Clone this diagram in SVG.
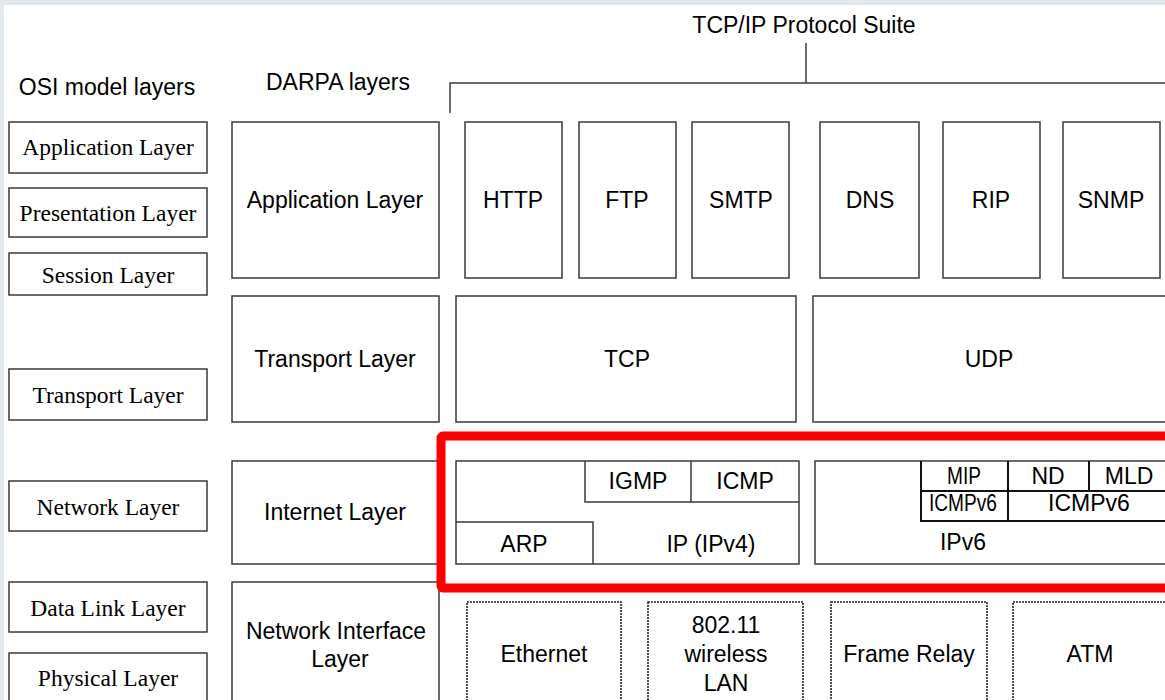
<svg xmlns="http://www.w3.org/2000/svg" width="1165" height="700" viewBox="0 0 1165 700">
  <style>
    .box { fill: #ffffff; stroke: #3a3a3a; stroke-width: 1.5; }
    .ln { fill: none; stroke: #3a3a3a; stroke-width: 1.5; }
    .bold { fill: none; stroke: #111111; stroke-width: 2; }
    .dot { fill: #ffffff; stroke: #222222; stroke-width: 1.6; stroke-dasharray: 2 1; }
    .sans { font-family: "Liberation Sans", Arial, sans-serif; font-size: 23px; fill: #000000; text-anchor: middle; }
    .serif { font-family: "Liberation Serif", "Times New Roman", serif; font-size: 23.5px; fill: #000000; text-anchor: middle; }
    .hl { fill: none; stroke: #ff0000; stroke-width: 9; }
  </style>

  <!-- backdrop and page -->
  <rect x="0" y="0" width="1165" height="700" fill="#e3e9ed"/>
  <rect x="4" y="5" width="1161" height="695" fill="#ffffff"/>

  <!-- column headings -->
  <text class="sans" x="107" y="95">OSI model layers</text>
  <text class="sans" x="338" y="90">DARPA layers</text>
  <text class="sans" x="804" y="33">TCP/IP Protocol Suite</text>

  <!-- bracket grouping the protocol suite -->
  <g id="connectors">
    <path class="ln" d="M806 43 V83"/>
    <path class="ln" d="M450 113 V83 H1170"/>
  </g>

  <!-- OSI model column -->
  <g id="osi-application"><rect class="box" x="9" y="122" width="198" height="51"/><text class="serif" x="108" y="155">Application Layer</text></g>
  <g id="osi-presentation"><rect class="box" x="9" y="188" width="198" height="49"/><text class="serif" x="108" y="221">Presentation Layer</text></g>
  <g id="osi-session"><rect class="box" x="9" y="253" width="198" height="42"/><text class="serif" x="108" y="283">Session Layer</text></g>
  <g id="osi-transport"><rect class="box" x="9" y="369" width="198" height="51"/><text class="serif" x="108" y="403">Transport Layer</text></g>
  <g id="osi-network"><rect class="box" x="9" y="481" width="198" height="50"/><text class="serif" x="108" y="515">Network Layer</text></g>
  <g id="osi-datalink"><rect class="box" x="9" y="582" width="198" height="50"/><text class="serif" x="108" y="616">Data Link Layer</text></g>
  <g id="osi-physical"><rect class="box" x="9" y="653" width="198" height="52"/><text class="serif" x="108" y="686">Physical Layer</text></g>

  <!-- DARPA column -->
  <g id="darpa-application"><rect class="box" x="232" y="122" width="207" height="156"/><text class="sans" x="335" y="208">Application Layer</text></g>
  <g id="darpa-transport"><rect class="box" x="232" y="296" width="207" height="126"/><text class="sans" x="335" y="367">Transport Layer</text></g>
  <g id="darpa-internet"><rect class="box" x="232" y="461" width="207" height="103"/><text class="sans" x="335" y="520">Internet Layer</text></g>
  <g id="darpa-netif"><rect class="box" x="232" y="582" width="207" height="125"/><text class="sans" x="336" y="639">Network Interface</text><text class="sans" x="340" y="667">Layer</text></g>

  <!-- application protocols -->
  <g id="http"><rect class="box" x="465" y="122" width="97" height="156"/><text class="sans" x="513" y="208">HTTP</text></g>
  <g id="ftp"><rect class="box" x="579" y="122" width="97" height="156"/><text class="sans" x="627" y="208">FTP</text></g>
  <g id="smtp"><rect class="box" x="692" y="122" width="97" height="156"/><text class="sans" x="741" y="208">SMTP</text></g>
  <g id="dns"><rect class="box" x="820" y="122" width="99" height="156"/><text class="sans" x="870" y="208">DNS</text></g>
  <g id="rip"><rect class="box" x="943" y="122" width="97" height="156"/><text class="sans" x="991" y="208">RIP</text></g>
  <g id="snmp"><rect class="box" x="1063" y="122" width="97" height="156"/><text class="sans" x="1111" y="208">SNMP</text></g>

  <!-- transport protocols -->
  <g id="tcp"><rect class="box" x="456" y="296" width="340" height="126"/><text class="sans" x="627" y="367">TCP</text></g>
  <g id="udp"><rect class="box" x="813" y="296" width="360" height="126"/><text class="sans" x="989" y="367">UDP</text></g>

  <!-- IPv4 stack -->
  <g id="ipv4">
    <rect class="box" x="456" y="461" width="343" height="103"/>
    <path class="ln" d="M585 461 V502 H799 M691 461 V502 M456 522 H593 V564"/>
    <text class="sans" x="638" y="489">IGMP</text>
    <text class="sans" x="745" y="489">ICMP</text>
    <text class="sans" x="524" y="552">ARP</text>
    <text class="sans" x="711" y="552">IP (IPv4)</text>
  </g>

  <!-- IPv6 stack -->
  <g id="ipv6">
    <rect class="box" x="815" y="461" width="360" height="103"/>
    <path class="bold" d="M921 461 V521 H1008 V461 M921 491 H1175 M1008 521 H1175 M1089 461 V491"/>
    <text class="sans" x="964" y="484" textLength="34" lengthAdjust="spacingAndGlyphs">MIP</text>
    <text class="sans" x="1048" y="484">ND</text>
    <text class="sans" x="1129" y="484">MLD</text>
    <text class="sans" x="963" y="511" textLength="68" lengthAdjust="spacingAndGlyphs">ICMPv6</text>
    <text class="sans" x="1089" y="511">ICMPv6</text>
    <text class="sans" x="963" y="550">IPv6</text>
  </g>

  <!-- highlight around the internet layer -->
  <rect id="internet-highlight" class="hl" x="441" y="436" width="760" height="152" rx="2"/>

  <!-- link technologies -->
  <g id="ethernet"><rect class="dot" x="467" y="602" width="154" height="110"/><text class="sans" x="544" y="662">Ethernet</text></g>
  <g id="wlan"><rect class="dot" x="648" y="602" width="155" height="110"/><text class="sans" x="726" y="633">802.11</text><text class="sans" x="726" y="662">wireless</text><text class="sans" x="726" y="691">LAN</text></g>
  <g id="frame-relay"><rect class="dot" x="831" y="602" width="156" height="110"/><text class="sans" x="909" y="662">Frame Relay</text></g>
  <g id="atm"><rect class="dot" x="1013" y="602" width="160" height="110"/><text class="sans" x="1090" y="662">ATM</text></g>
</svg>
